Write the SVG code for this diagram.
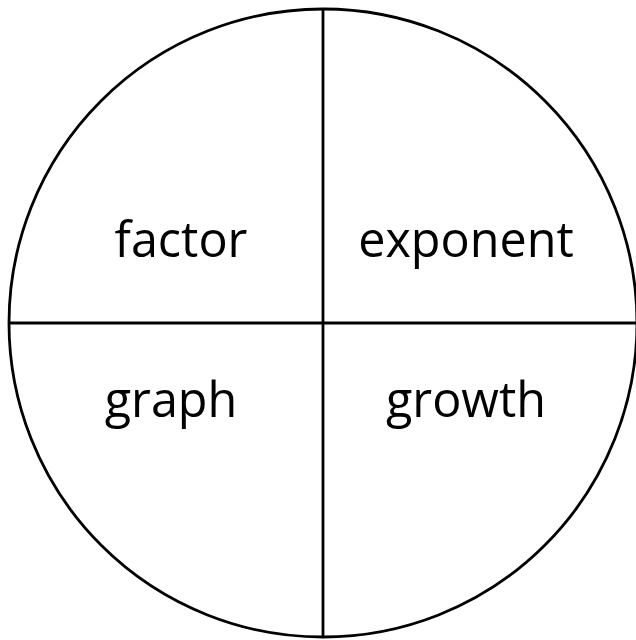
<svg xmlns="http://www.w3.org/2000/svg" width="636" height="640" viewBox="0 0 636 640">
<style>
.ln{stroke:#000;stroke-width:2.8;fill:none}
.t{font-family:"Open Sans","DejaVu Sans",sans-serif;font-size:48.5px;fill:#000;text-anchor:middle}
</style>
<rect width="636" height="640" fill="#fff"/>
<g id="connectors">
<circle class="ln" cx="323" cy="323" r="314"/>
<line class="ln" x1="323" y1="9" x2="323" y2="637"/>
<line class="ln" x1="9" y1="323" x2="637" y2="323"/>
</g>
<g id="factor"><text class="t" x="181" y="257">factor</text></g>
<g id="exponent"><text class="t" x="466" y="257">exponent</text></g>
<g id="graph"><text class="t" x="171" y="417">graph</text></g>
<g id="growth"><text class="t" x="466" y="417">growth</text></g>
</svg>
